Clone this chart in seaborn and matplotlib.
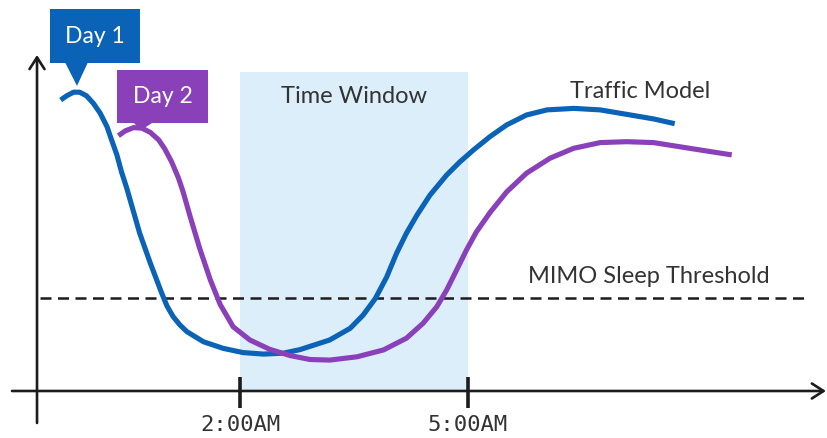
import numpy as np
import pandas as pd
import matplotlib
matplotlib.use("Agg")
import matplotlib.pyplot as plt
from matplotlib.patches import Polygon, Rectangle
import seaborn as sns

# Traffic model curves: hour of night vs. relative traffic load
day1_hours = [-0.36, -0.28, -0.19, -0.11, -0.02, 0.07, 0.16, 0.25, 0.31, 0.38,
              0.44, 0.51, 0.57, 0.68, 0.82, 0.97, 1.04, 1.12, 1.21, 1.30,
              1.52, 1.78, 2.04, 2.31, 2.57, 2.79, 3.18, 3.45, 3.62, 3.78,
              3.93, 4.06, 4.19, 4.33, 4.50, 4.72, 4.89, 5.07, 5.29, 5.51,
              5.77, 6.04, 6.39, 6.74, 7.09, 7.44, 7.72]
day1_load = [97.0, 98.4, 99.6, 99.6, 98.4, 95.9, 92.6, 88.1, 83.7, 78.7,
             73.1, 67.6, 62.3, 52.6, 42.6, 32.6, 28.3, 24.8, 22.0, 19.8,
             16.4, 14.2, 12.8, 12.3, 12.6, 13.8, 17.0, 20.9, 25.3, 30.8,
             38.0, 45.9, 52.6, 58.7, 65.3, 72.0, 76.3, 80.3, 84.8, 88.7,
             92.0, 93.7, 94.2, 93.7, 92.2, 90.7, 89.1]

day2_hours = [0.40, 0.49, 0.60, 0.71, 0.82, 0.93, 1.01, 1.10, 1.19, 1.25,
              1.34, 1.47, 1.61, 1.74, 1.91, 2.13, 2.39, 2.66, 2.92, 3.18,
              3.54, 3.89, 4.19, 4.41, 4.59, 4.72, 4.85, 4.98, 5.11, 5.29,
              5.51, 5.77, 6.08, 6.39, 6.74, 7.09, 7.44, 7.79, 8.14, 8.47]
day2_load = [85.1, 86.7, 87.8, 87.6, 86.2, 83.7, 80.7, 76.4, 71.0, 66.5,
             58.5, 47.5, 37.0, 28.8, 21.4, 17.0, 13.9, 11.8, 10.5, 10.3,
             11.4, 13.7, 17.6, 22.6, 28.1, 33.7, 40.3, 47.0, 53.0, 59.5,
             66.4, 72.6, 77.6, 80.9, 82.8, 83.1, 82.8, 81.4, 80.0, 78.7]

sleep_threshold = 31.0
window_start, window_end = 2.0, 5.0
window_top = 106.3
tick_hours = [2, 5]
tick_labels = ["2:00AM", "5:00AM"]

BLUE = "#0A63B6"
PURPLE = "#8A40B9"
SHADE = "#DDEEFB"
INK = "#1C1C1C"
TEXT = "#333333"

df = pd.concat([
    pd.DataFrame({"hour": day1_hours, "load": day1_load, "day": "Day 1"}),
    pd.DataFrame({"hour": day2_hours, "load": day2_load, "day": "Day 2"}),
])

sns.set_theme(style="white")
plt.rcParams["font.family"] = ["Lato", "DejaVu Sans"]

fig = plt.figure(figsize=(8.28, 4.38), dpi=100)
ax = fig.add_axes([0, 0, 1, 1])
ax.set_xlim(-1.158, 9.737)
ax.set_ylim(-15.67, 130.33)
ax.set_axis_off()

# Sleep time window
ax.add_patch(Rectangle((window_start, 0), window_end - window_start, window_top,
                       facecolor=SHADE, edgecolor="none", zorder=0))
ax.text((window_start + window_end) / 2, 98.3, "Time Window", ha="center",
        va="center", fontsize=17, color=TEXT, zorder=5)

# Threshold
ax.plot([-0.63, 9.47], [sleep_threshold, sleep_threshold], color=INK, lw=1.8,
        linestyle=(0, (4.4, 2.6)), zorder=2)
ax.text(7.38, 38.3, "MIMO Sleep Threshold", ha="center", va="center",
        fontsize=17, color=TEXT, zorder=5)

# Curves
sns.lineplot(data=df, x="hour", y="load", hue="day", sort=False,
             palette={"Day 1": BLUE, "Day 2": PURPLE}, linewidth=3.7,
             legend=False, ax=ax, zorder=3)
for line in ax.get_lines():
    if len(line.get_xdata()) > 2:
        line.set_solid_capstyle("butt")
        line.set_solid_joinstyle("round")

ax.text(7.26, 99.7, "Traffic Model", ha="center", va="center", fontsize=17,
        color=TEXT, zorder=5)

# Axes with arrows
ax.annotate("", xy=(9.71, 0), xytext=(-1.0, 0),
            arrowprops=dict(arrowstyle="->,head_length=0.7,head_width=0.45",
                            color=INK, lw=1.9, shrinkA=0, shrinkB=0), zorder=4)
ax.annotate("", xy=(-0.671, 112.0), xytext=(-0.671, -10.67),
            arrowprops=dict(arrowstyle="->,head_length=0.7,head_width=0.45",
                            color=INK, lw=1.9, shrinkA=0, shrinkB=0), zorder=4)
for h, lab in zip(tick_hours, tick_labels):
    ax.plot([h, h], [4.5, -5.7], color=INK, lw=2.6, solid_capstyle="butt", zorder=4)
    ax.text(h, -11.3, lab, ha="center", va="center", fontsize=16, color=TEXT,
            family="DejaVu Sans Mono")

# Callout labels
def callout(x0, x1, y0, y1, base, tip, color, label):
    ax.add_patch(Rectangle((x0, y0), x1 - x0, y1 - y0, facecolor=color,
                           edgecolor="none", zorder=6))
    ax.add_patch(Polygon([(base[0], y0 + 0.3), (base[1], y0 + 0.3), tip],
                         closed=True, facecolor=color, edgecolor="none", zorder=6))
    ax.text((x0 + x1) / 2, (y0 + y1) / 2, label, ha="center", va="center",
            fontsize=16.5, color="white", zorder=7)

callout(-0.5, 0.684, 109.3, 127.3, (-0.303, 0.0), (-0.145, 101.7), BLUE, "Day 1")
callout(0.382, 1.579, 89.3, 107.0, (0.59, 0.86), (0.70, 87.0), PURPLE, "Day 2")

fig.savefig("out.png", dpi=100)
